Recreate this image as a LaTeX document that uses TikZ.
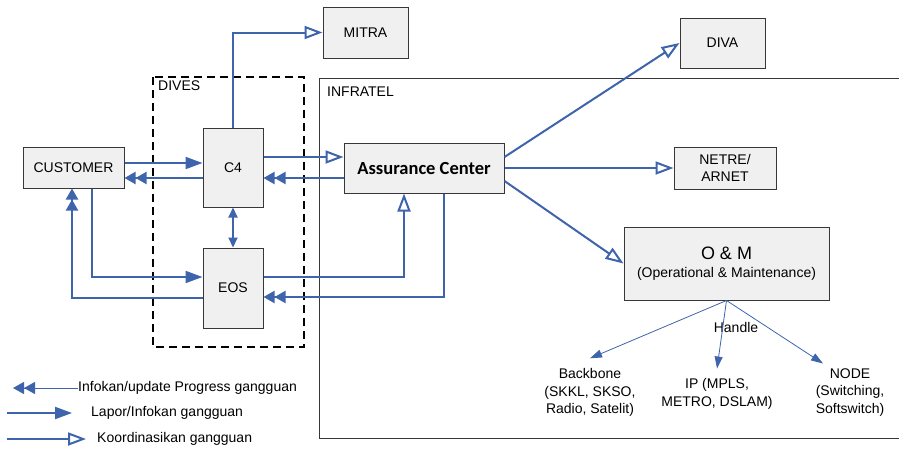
\documentclass[tikz,border=0pt]{standalone}
\usepackage{fontspec}
\setmainfont{Liberation Sans}
\newfontfamily\acfont{Carlito}
\usetikzlibrary{arrows.meta}
\definecolor{linkblue}{RGB}{62,100,172}
\definecolor{boxfill}{RGB}{240,240,240}
\definecolor{boxline}{RGB}{55,55,55}

\begin{document}
\begin{tikzpicture}[x=1pt, y=-1pt,
    box/.style={draw=boxline, line width=1pt, fill=boxfill, inner sep=0pt, align=center, font=\fontsize{14}{17}\selectfont},
    txt/.style={inner sep=0pt, align=center, font=\fontsize{14}{17.5}\selectfont},
    lapor/.style={draw=linkblue, line width=2pt, -{Triangle[length=17pt,width=12pt]}},
    info/.style={draw=linkblue, line width=2pt, -{Triangle[length=11pt,width=12pt]Triangle[length=11pt,width=12pt]}},
    both/.style={draw=linkblue, line width=2pt, {Triangle[length=10pt,width=9pt]}-{Triangle[length=10pt,width=9pt]}},
    koord/.style={draw=linkblue, line width=2pt, -{Triangle[open,length=18pt,width=13pt]}},
    omlink/.style={draw=linkblue, line width=0.8pt, -{Triangle[length=12pt,width=8pt]}},
    divesbox/.style={draw=black, line width=1.8pt, dash pattern=on 8pt off 5pt}]
    \useasboundingbox (0,0) rectangle (899,463);

    % Define coordinates for the connector levels and bends
    \coordinate (lvA) at (0,157);
    \coordinate (lvB) at (0,163);
    \coordinate (lvC) at (0,178);
    \coordinate (lvE) at (0,181);
    \coordinate (cbend) at (92,277);
    \coordinate (ebend) at (72,298);
    \coordinate (eosup) at (404,277);
    \coordinate (acdown) at (444,297);

    % Draw the DIVES and INFRATEL frames
    \draw[divesbox] (153,77) rectangle (304,347);
    \draw[boxline, line width=1pt] (899,78) -- (319,78) -- (319,438) -- (899,438);
    \node[txt, anchor=west] (dives) at (158,86) {DIVES};
    \node[txt, anchor=west] (infratel) at (327,92) {INFRATEL};

    % Boxes
    \node[box, minimum width=101pt, minimum height=41pt] (customer) at (73.5,167.5) {CUSTOMER};
    \node[box, minimum width=60pt, minimum height=79pt] (cfour) at (233,167.5) {C4};
    \node[box, minimum width=60pt, minimum height=80pt] (eos) at (233,288) {EOS};
    \node[box, minimum width=85pt, minimum height=51pt] (mitra) at (365.5,32.5) {MITRA};
    \node[box, minimum width=160pt, minimum height=50pt, font=\acfont\bfseries\fontsize{18.5}{20}\selectfont] (assurance) at (424,168) {Assurance Center};
    \node[box, minimum width=85pt, minimum height=50pt] (diva) at (722.5,43) {DIVA};
    \node[box, minimum width=102pt, minimum height=42pt] (netre) at (725,168) {NETRE/\\ARNET};
    \node[box, minimum width=205pt, minimum height=73pt] (om) at (726.5,263.5) {{\fontsize{18}{20}\selectfont O \& M}\\[1pt](Operational \& Maintenance)};

    % Things handled by O&M
    \node[txt, inner sep=10pt] (backbone) at (590,392.5) {Backbone\\(SKKL, SKSO,\\Radio, Satelit)};
    \node[txt, inner sep=10pt] (ip) at (717,394) {IP (MPLS,\\METRO, DSLAM)};
    \node[txt, inner sep=10pt] (nodeb) at (850,392.5) {NODE\\(Switching,\\Softswitch)};
    \node[txt] (handle) at (736,327) {Handle};

    % Customer and DIVES connectors
    \draw[lapor] (customer.east |- lvB) -- (cfour.west |- lvB);
    \draw[info] (cfour.west |- lvC) -- (customer.east |- lvC);
    \draw[both] (cfour.south) -- (eos.north);
    \draw[lapor] (customer.south -| cbend) |- (eos.west |- cbend);
    \draw[info] (eos.west |- ebend) -| (customer.south -| ebend);
    \draw[koord] (cfour.north) |- (mitra.west);

    % Connectors to and from the Assurance Center
    \draw[koord] (cfour.east |- lvA) -- (assurance.west |- lvA);
    \draw[info] (assurance.west |- lvC) -- (cfour.east |- lvC);
    \draw[koord] (eos.east |- eosup) -| (assurance.south -| eosup);
    \draw[info] (assurance.south -| acdown) |- (eos.east |- acdown);
    \draw[koord] (assurance.east |- lvA) -- (diva.west);
    \draw[koord] (assurance.east) -- (netre.west);
    \draw[koord] (assurance.east |- lvE) -- (om.west);

    % O&M handles
    \draw[omlink] (om.south) -- (backbone.north);
    \draw[omlink] (om.south) -- (ip.north);
    \draw[omlink] (om.south) -- ([shift={(-27,5)}]nodeb.north);

    % Legend
    \coordinate (lgone) at (13,388);
    \coordinate (lgtwo) at (7,413);
    \coordinate (lgtwoend) at (72,413);
    \coordinate (lgthree) at (7,439);
    \coordinate (lgthreeend) at (86,439);
    \node[txt, anchor=west] (lgonetxt) at (78,388) {Infokan/update Progress gangguan};
    \node[txt, anchor=west] (lgtwotxt) at (91,413) {Lapor/Infokan gangguan};
    \node[txt, anchor=west] (lgthreetxt) at (97,439) {Koordinasikan gangguan};
    \draw[info, line width=1pt] (lgonetxt.west) -- (lgone);
    \draw[lapor] (lgtwo) -- (lgtwoend);
    \draw[koord] (lgthree) -- (lgthreeend);
\end{tikzpicture}
\end{document}
